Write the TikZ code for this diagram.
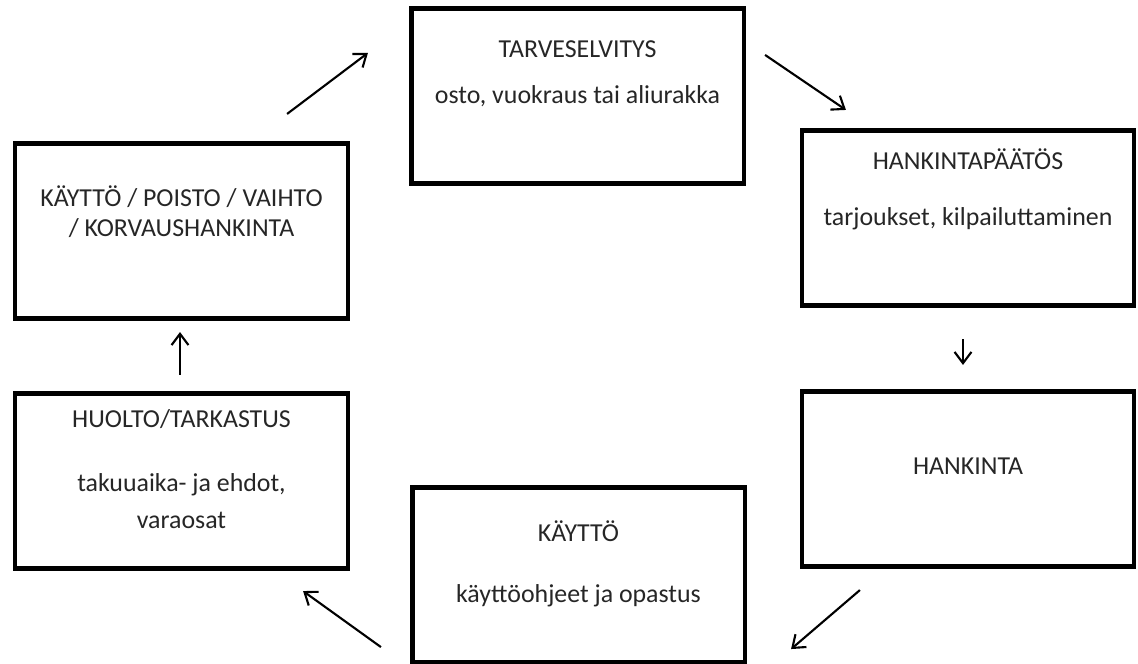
\documentclass[tikz,border=0pt]{standalone}
\usepackage{fontspec}
\setmainfont{Carlito}
\usepackage{tikz}
\usetikzlibrary{arrows.meta}

\begin{document}
\begin{tikzpicture}[x=0.025cm, y=-0.025cm,
    box/.style={draw, line width=2.9pt, minimum width=8.3cm, minimum height=4.375cm},
    txt/.style={text=black!85, font=\fontsize{18.4}{21.3}\selectfont, align=center},
    arr/.style={-{Straight Barb[length=8pt,width=12pt]}, line width=1.5pt}]
			\useasboundingbox (0,0) rectangle (1138,664);
			
			% boxes of the cycle
			\node[box] (tarve) at (577.5,96) {};
			\node[box] (paatos) at (968,218) {};
			\node[box] (hank) at (968,479) {};
			\node[box] (kaytto) at (578.5,575) {};
			\node[box] (huolto) at (181.5,481) {};
			\node[box] (vaihto) at (181.5,231) {};
			
			% texts
			\node[txt] (tarve-a) at ([shift={(0,43)}]tarve.north) {TARVESELVITYS};
			\node[txt] (tarve-b) at ([shift={(0,90)}]tarve.north) {osto, vuokraus tai aliurakka};
			\node[txt] (paatos-a) at ([shift={(0,31)}]paatos.north) {HANKINTAPÄÄTÖS};
			\node[txt] (paatos-b) at ([shift={(0,90)}]paatos.north) {tarjoukset, kilpailuttaminen};
			\node[txt] (hank-a) at ([shift={(0,77)}]hank.north) {HANKINTA};
			\node[txt] (kaytto-a) at ([shift={(0,46)}]kaytto.north) {KÄYTTÖ};
			\node[txt] (kaytto-b) at ([shift={(0,110)}]kaytto.north) {käyttöohjeet ja opastus};
			\node[txt] (huolto-a) at ([shift={(0,28)}]huolto.north) {HUOLTO/TARKASTUS};
			\node[txt, font=\fontsize{18.4}{26.3}\selectfont] (huolto-b) at ([shift={(0,110)}]huolto.north) {takuuaika- ja ehdot,\\ varaosat};
			\node[txt] (vaihto-a) at ([shift={(0,70)}]vaihto.north) {KÄYTTÖ / POISTO / VAIHTO\\ / KORVAUSHANKINTA};
			
			% arrows between the boxes
			\draw[arr] ([shift={(-62.5,-27.5)}]vaihto.north east) -- ([shift={(-41.5,46.5)}]tarve.north west);
			\draw[arr] ([shift={(19.5,48.5)}]tarve.north east) -- ([shift={(46,-18.5)}]paatos.north west);
			\draw[arr] ([shift={(-5,31.5)}]paatos.south) -- ([shift={(-5,-24.5)}]hank.north);
			\draw[arr] ([shift={(60,21.5)}]hank.south west) -- ([shift={(44.5,-15.5)}]kaytto.south east);
			\draw[arr] ([shift={(-29.5,-17.5)}]kaytto.south west) -- ([shift={(-46.5,20.5)}]huolto.south east);
			\draw[arr] ([shift={(-1.5,-16.5)}]huolto.north) -- ([shift={(-1.5,11.5)}]vaihto.south);
		\end{tikzpicture}
\end{document}
